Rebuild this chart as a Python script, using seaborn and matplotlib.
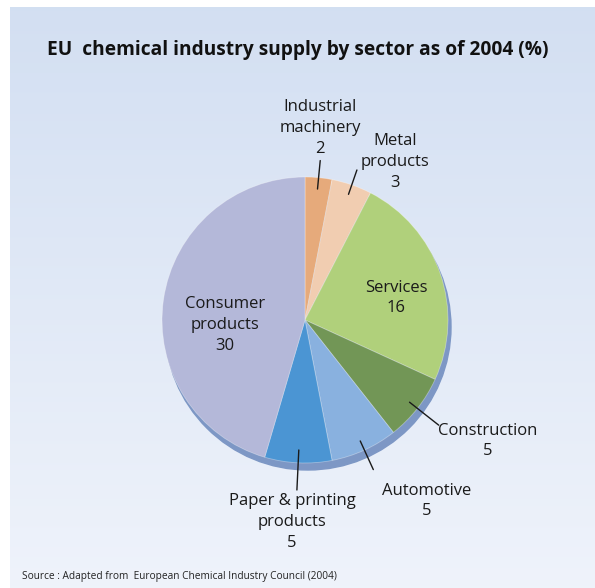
import numpy as np
import matplotlib
matplotlib.use("Agg")
import matplotlib.pyplot as plt
import seaborn as sns

sns.set_theme(style="white")
plt.rcParams['font.family'] = ['Open Sans', 'DejaVu Sans']

# Sector shares (%), clockwise from 12 o'clock
sectors = ["Industrial\nmachinery", "Metal\nproducts", "Services", "Construction",
           "Automotive", "Paper & printing\nproducts", "Consumer\nproducts"]
shares = [2, 3, 16, 5, 5, 5, 30]
colors = ["#e6aa7b", "#f1cdb1", "#b0d07b", "#729656", "#89b1df", "#4b95d3", "#b4b8d9"]

W, H = 595, 588
fig = plt.figure(figsize=(W / 100, H / 100), dpi=100)
fig.patch.set_facecolor("white")

# Gradient panel behind everything
bg = fig.add_axes([0, 0, 1, 1])
bg.set_xlim(0, W)
bg.set_ylim(0, H)
bg.axis("off")
grad = np.linspace(0, 1, 256)[:, None]
top = np.array([0.827, 0.875, 0.949])
bot = np.array([0.937, 0.953, 0.984])
img = top[None, None, :] * (1 - grad[..., None]) + bot[None, None, :] * grad[..., None]
bg.imshow(img, extent=[10, W, 0, H - 7], aspect="auto", origin="upper", zorder=0)

ax = fig.add_axes([0, 0, 1, 1])
ax.patch.set_alpha(0)

cx, cy, R = 305, H - 320, 143

# Rim under the pie for a slight 3-D look
rim = plt.Circle((cx + 3, cy - 7), R, color="#7d97c5", zorder=1)
ax.add_patch(rim)

wedges, _ = ax.pie(shares, colors=colors, startangle=90, counterclock=False,
                   center=(cx, cy), radius=R, frame=True,
                   wedgeprops=dict(edgecolor=(1, 1, 1, 0.35), linewidth=0.6, zorder=2))
ax.set_xlim(0, W)
ax.set_ylim(0, H)
ax.set_aspect("equal")
ax.axis("off")

label_fs = 12
total = sum(shares)
cum = np.cumsum([0] + shares)
mid_angles = [90 - (cum[i] + shares[i] / 2) / total * 360 for i in range(len(shares))]

# Text positions (pixel layout, y measured from top)
label_pos = {
    0: (320, 128),
    1: (395, 162),
    2: (396, 298),
    3: (488, 441),
    4: (427, 501),
    5: (292, 522),
    6: (225, 325),
}
# Leader line radii (fraction of R) for outside labels
leaders = {0: (0.92, 1.12), 1: (0.93, 1.11), 3: (0.93, 1.19),
           4: (0.93, 1.15), 5: (0.91, 1.19)}

for i, (name, val) in enumerate(zip(sectors, shares)):
    x, y = label_pos[i]
    ax.text(x, H - y, f"{name}\n{val}", ha="center", va="center",
            fontsize=label_fs, color="#1a1a1a", linespacing=1.38, zorder=5)
    if i in leaders:
        a = np.deg2rad(mid_angles[i])
        r0, r1 = leaders[i]
        ax.plot([cx + r0 * R * np.cos(a), cx + r1 * R * np.cos(a)],
                [cy + r0 * R * np.sin(a), cy + r1 * R * np.sin(a)],
                color="#1a1a1a", lw=1.0, zorder=5)

ax.text(298, H - 50, "EU  chemical industry supply by sector as of 2004 (%)",
        ha="center", va="center", fontsize=13.8, fontweight="bold", color="#111111")
ax.text(22, H - 577, "Source : Adapted from  European Chemical Industry Council (2004)",
        ha="left", va="center", fontsize=7.3, color="#222222")

fig.savefig("out.png", dpi=100, facecolor=fig.get_facecolor())
